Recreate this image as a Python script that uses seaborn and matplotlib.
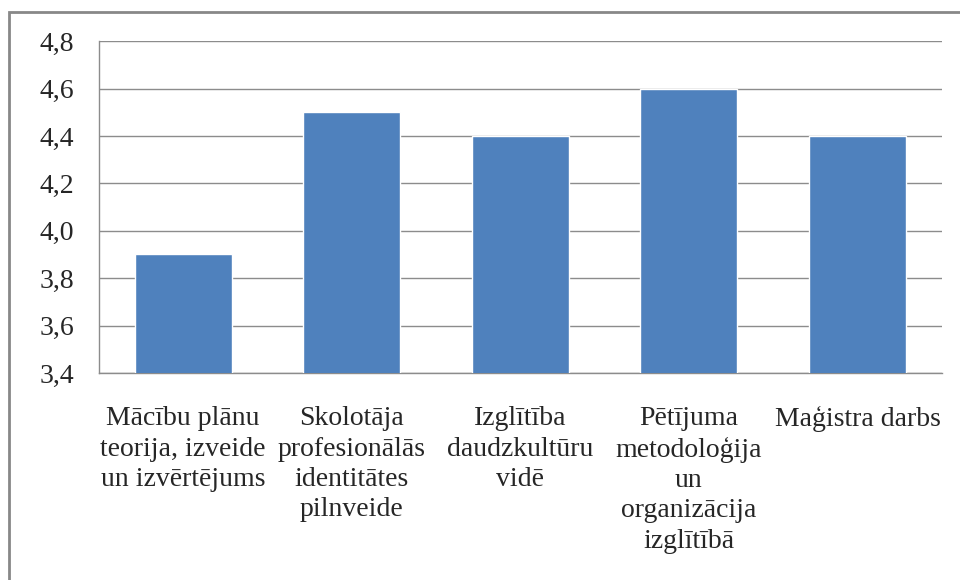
import pandas as pd
import matplotlib.pyplot as plt
import seaborn as sns
from matplotlib.patches import Rectangle
from matplotlib.ticker import FuncFormatter

# Chart data
categories = [
    'Mācību plānu\nteorija, izveide\nun izvērtējums',
    'Skolotāja\nprofesionālās\nidentitātes\npilnveide',
    'Izglītība\ndaudzkultūru\nvidē',
    'Pētījuma\nmetodoloģija\nun\norganizācija\nizglītībā',
    'Maģistra darbs',
]
values = [3.9, 4.5, 4.4, 4.6, 4.4]
y_ticks = [3.4, 3.6, 3.8, 4.0, 4.2, 4.4, 4.6, 4.8]

df = pd.DataFrame({'category': categories, 'value': values})

sns.set_style('white')
plt.rcParams['font.family'] = 'serif'
plt.rcParams['font.serif'] = ['Liberation Serif', 'DejaVu Serif']

fig = plt.figure(figsize=(9.6, 5.8), dpi=100)
ax = fig.add_axes([0.103, 0.357, 0.878, 0.572])

sns.barplot(data=df, x='category', y='value', color='#4F81BD',
            width=0.575, saturation=1, ax=ax, zorder=3)

ax.set_ylim(3.4, 4.8)
ax.set_yticks(y_ticks)
ax.yaxis.set_major_formatter(FuncFormatter(lambda v, _: f'{v:.1f}'.replace('.', ',')))
ax.grid(axis='y', color='#8c8c8c', linewidth=1, zorder=0)
ax.set_axisbelow(True)
ax.set_xlabel('')
ax.set_ylabel('')

for side in ['top', 'right']:
    ax.spines[side].set_visible(False)
for side in ['left', 'bottom']:
    ax.spines[side].set_color('#8c8c8c')
    ax.spines[side].set_linewidth(1)

ax.tick_params(axis='y', labelsize=20, length=0, pad=18)
ax.tick_params(axis='x', labelsize=20, length=0, pad=24)
for lbl in ax.get_xticklabels() + ax.get_yticklabels():
    lbl.set_fontfamily('Liberation Serif')
for lbl in ax.get_xticklabels():
    lbl.set_linespacing(1.28)
    lbl.set_verticalalignment('top')

# outer chart border (extends past right and bottom edge)
fig.patches.append(Rectangle((9 / 960, -0.05), 1.1, 1 - 12 / 580 + 0.05,
                             transform=fig.transFigure, fill=False,
                             edgecolor='#888888', linewidth=2))

fig.savefig('out.png', dpi=100)
plt.close()
